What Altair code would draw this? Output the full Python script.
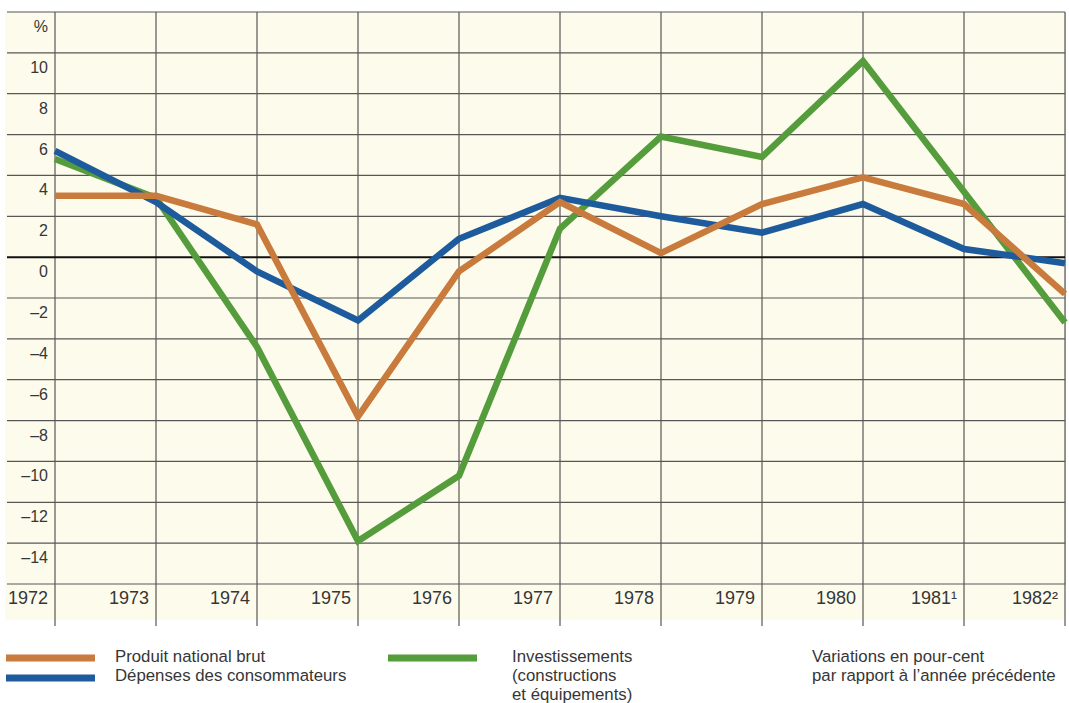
import altair as alt
import pandas as pd

# Annual change in % versus the previous year
years = [1972, 1973, 1974, 1975, 1976, 1977, 1978, 1979, 1980, 1981, 1982]
year_labels = ["1972", "1973", "1974", "1975", "1976", "1977", "1978", "1979", "1980", "1981¹", "1982²"]
gnp = [3.0, 3.0, 1.6, -7.8, -0.7, 2.7, 0.2, 2.6, 3.9, 2.6, -1.8]
consumer = [5.2, 2.7, -0.7, -3.1, 0.9, 2.9, 2.0, 1.2, 2.6, 0.4, -0.3]
investment = [4.8, 2.9, -4.4, -13.9, -10.7, 1.4, 5.9, 4.9, 9.6, 3.2, -3.2]

y_grid = list(range(-16, 13, 2))
y_tick_values = [12, 10, 8, 6, 4, 2, 0, -2, -4, -6, -8, -10, -12, -14]
y_tick_labels = ["%", "10", "8", "6", "4", "2", "0", "–2", "–4", "–6", "–8", "–10", "–12", "–14"]

C_GNP = "#c97a3d"
C_CONS = "#1d5b9d"
C_INV = "#559c3c"
GRID = "#575757"
TEXT = "#363636"
FONT = "Liberation Sans"

W, H = 1010, 572
xs = alt.Scale(domain=[1972, 1982], nice=False, zero=False)
ys = alt.Scale(domain=[-16, 12], nice=False, zero=False)

one = pd.DataFrame({"k": [0]})

background = alt.Chart(one).mark_rect(color="#fdfcec").encode(
    x=alt.value(-50), x2=alt.value(W), y=alt.value(0), y2=alt.value(608)
)

hgrid = alt.Chart(pd.DataFrame({"v": [v for v in y_grid if v != 0]})).mark_rule(
    color=GRID, strokeWidth=1.2
).encode(y=alt.Y("v:Q", scale=ys, axis=None), x=alt.value(-48), x2=alt.value(W))

zero_line = alt.Chart(pd.DataFrame({"v": [0]})).mark_rule(
    color="#111111", strokeWidth=2
).encode(y=alt.Y("v:Q", scale=ys, axis=None), x=alt.value(-48), x2=alt.value(W))

vgrid = alt.Chart(pd.DataFrame({"year": years})).mark_rule(
    color=GRID, strokeWidth=1.2
).encode(x=alt.X("year:Q", scale=xs, axis=None), y=alt.value(0), y2=alt.value(614))


def series_line(values, color):
    df = pd.DataFrame({"year": years, "value": values})
    return alt.Chart(df).mark_line(
        color=color, strokeWidth=6.5, strokeJoin="miter", strokeCap="butt"
    ).encode(
        x=alt.X("year:Q", scale=xs, axis=None),
        y=alt.Y("value:Q", scale=ys, axis=None),
    )


line_inv = series_line(investment, C_INV)
line_cons = series_line(consumer, C_CONS)
line_gnp = series_line(gnp, C_GNP)

y_labels = alt.Chart(pd.DataFrame({"v": y_tick_values, "t": y_tick_labels})).mark_text(
    align="right", baseline="middle", dy=15, font=FONT, fontSize=16, color=TEXT
).encode(y=alt.Y("v:Q", scale=ys, axis=None), x=alt.value(-7), text="t:N")

x_labels = alt.Chart(pd.DataFrame({"year": years, "t": year_labels})).mark_text(
    align="right", baseline="middle", dx=-7, font=FONT, fontSize=18, color=TEXT
).encode(x=alt.X("year:Q", scale=xs, axis=None), y=alt.value(587), text="t:N")

# Key below the chart
def swatch(color, x0, x1, y):
    return alt.Chart(one).mark_rule(color=color, strokeWidth=7).encode(
        x=alt.value(x0), x2=alt.value(x1), y=alt.value(y)
    )


def note(lines, x, y0, step=19):
    df = pd.DataFrame({"t": lines, "i": list(range(len(lines)))})
    return alt.Chart(df).transform_calculate(py=f"{y0} + datum.i * {step}").mark_text(
        align="left", baseline="middle", font=FONT, fontSize=16.8, color=TEXT
    ).encode(x=alt.value(x), y=alt.Y("py:Q", scale=None), text="t:N")


key = [
    swatch(C_GNP, -49, 40, 646),
    swatch(C_CONS, -49, 40, 666),
    swatch(C_INV, 333, 422, 646),
    note(["Produit national brut", "Dépenses des consommateurs"], 60, 645),
    note(["Investissements", "(constructions", "et équipements)"], 457, 645),
    note(["Variations en pour-cent", "par rapport à l’année précédente"], 757, 645),
]

chart = alt.layer(
    background, hgrid, vgrid, zero_line, line_inv, line_cons, line_gnp,
    y_labels, x_labels, *key
).properties(
    width=W, height=H,
    padding={"left": 55, "top": 12, "right": 4, "bottom": 119},
    autosize="none",
).configure_view(stroke=None).configure(background="white")

chart.save("out.html", embed_options={"renderer": "svg", "actions": False})
